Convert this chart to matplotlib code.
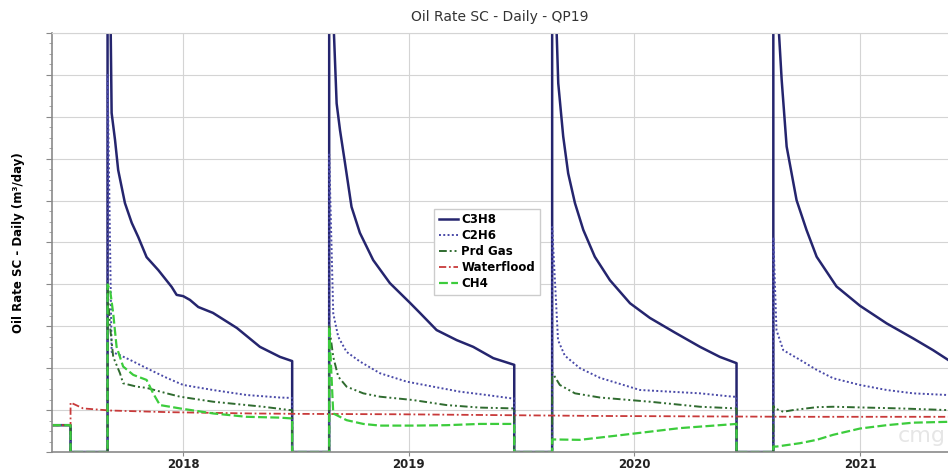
import matplotlib.pyplot as plt
from matplotlib.ticker import FixedLocator, MultipleLocator, AutoMinorLocator

# time in decimal years, oil rate in m3/day
c3h8_t = [2017.420, 2017.502, 2017.502, 2017.666, 2017.666, 2017.680, 2017.684, 2017.699, 2017.713,
          2017.743, 2017.773, 2017.802, 2017.839, 2017.891, 2017.950, 2017.972, 2018.001, 2018.031,
          2018.068, 2018.133, 2018.239, 2018.341, 2018.430, 2018.484, 2018.484,
          2018.648, 2018.648, 2018.669, 2018.681, 2018.696, 2018.718, 2018.747, 2018.784, 2018.843,
          2018.917, 2019.006, 2019.050, 2019.124, 2019.213, 2019.286, 2019.375, 2019.468, 2019.468,
          2019.636, 2019.636, 2019.656, 2019.663, 2019.685, 2019.707, 2019.737, 2019.774, 2019.825,
          2019.892, 2019.981, 2020.069, 2020.180, 2020.291, 2020.379, 2020.453, 2020.453,
          2020.616, 2020.616, 2020.641, 2020.653, 2020.675, 2020.697, 2020.719, 2020.763, 2020.808,
          2020.896, 2021.000, 2021.118, 2021.236, 2021.324, 2021.390]
c3h8_q = [0.64, 0.64, 0, 0, 14, 10, 8.09, 7.45, 6.73,
          5.94, 5.47, 5.13, 4.65, 4.34, 3.94, 3.75, 3.72, 3.63,
          3.46, 3.32, 2.96, 2.51, 2.27, 2.17, 0,
          0, 14, 10, 8.32, 7.68, 6.9, 5.85, 5.23, 4.58,
          4.03, 3.56, 3.32, 2.91, 2.67, 2.51, 2.24, 2.08, 0,
          0, 14, 10, 8.8, 7.53, 6.65, 5.94, 5.3, 4.66,
          4.1, 3.55, 3.2, 2.85, 2.51, 2.27, 2.12, 0,
          0, 14, 10, 8.88, 7.29, 6.65, 6.01, 5.3, 4.66,
          3.95, 3.49, 3.07, 2.71, 2.43, 2.2]

c2h6_t = [2017.420, 2017.502, 2017.502, 2017.666, 2017.666, 2017.684, 2017.721, 2017.765, 2017.839,
          2017.928, 2018.001, 2018.133, 2018.282, 2018.430, 2018.484, 2018.484,
          2018.648, 2018.648, 2018.666, 2018.688, 2018.725, 2018.784, 2018.873, 2018.991, 2019.108,
          2019.227, 2019.346, 2019.456, 2019.468, 2019.468,
          2019.636, 2019.636, 2019.662, 2019.692, 2019.759, 2019.848, 2020.025, 2020.291, 2020.437,
          2020.453, 2020.453,
          2020.616, 2020.616, 2020.630, 2020.660, 2020.734, 2020.808, 2020.881, 2021.000, 2021.118,
          2021.236, 2021.390]
c2h6_q = [0.64, 0.64, 0, 0, 9, 2.39, 2.31, 2.2, 2.0,
          1.77, 1.6, 1.48, 1.36, 1.3, 1.29, 0,
          0, 7.1, 3.31, 2.75, 2.39, 2.16, 1.88, 1.68, 1.56,
          1.44, 1.36, 1.28, 1.28, 0,
          0, 5.37, 2.67, 2.3, 2.0, 1.77, 1.48, 1.4, 1.32,
          1.32, 0,
          0, 5.13, 2.91, 2.43, 2.2, 1.96, 1.76, 1.6, 1.48,
          1.4, 1.36]

prd_t = [2017.420, 2017.502, 2017.502, 2017.666, 2017.666, 2017.677, 2017.691, 2017.721, 2017.735,
         2017.795, 2017.839, 2017.928, 2017.987, 2018.134, 2018.208, 2018.356, 2018.474, 2018.484,
         2018.484,
         2018.648, 2018.648, 2018.666, 2018.688, 2018.725, 2018.799, 2018.873, 2019.020, 2019.168,
         2019.316, 2019.468, 2019.468,
         2019.636, 2019.636, 2019.670, 2019.737, 2019.848, 2020.069, 2020.291, 2020.453, 2020.453,
         2020.616, 2020.616, 2020.623, 2020.660, 2020.703, 2020.808, 2020.881, 2021.029, 2021.177,
         2021.390]
prd_q = [0.64, 0.64, 0, 0, 3.9, 3.0, 2.27, 1.88, 1.64,
         1.56, 1.53, 1.4, 1.32, 1.2, 1.16, 1.08, 1.0, 1.0,
         0,
         0, 3.0, 2.27, 1.8, 1.56, 1.4, 1.32, 1.24, 1.12,
         1.06, 1.04, 0,
         0, 1.9, 1.6, 1.4, 1.3, 1.2, 1.08, 1.04, 0,
         0, 1.1, 1.04, 0.96, 1.0, 1.07, 1.08, 1.06, 1.04,
         1.0]

wf_t = [2017.420, 2017.502, 2017.502, 2017.558, 2017.677, 2017.942, 2018.297, 2018.518, 2018.961,
        2019.405, 2019.848, 2020.291, 2020.734, 2021.390]
wf_q = [0.64, 0.64, 1.18, 1.04, 0.99, 0.95, 0.92, 0.91, 0.9,
        0.88, 0.86, 0.85, 0.84, 0.84]

ch4_t = [2017.420, 2017.502, 2017.502, 2017.666, 2017.666, 2017.677, 2017.691, 2017.706, 2017.735,
         2017.780, 2017.839, 2017.868, 2017.898, 2017.987, 2018.134, 2018.282, 2018.430, 2018.484,
         2018.484,
         2018.648, 2018.648, 2018.666, 2018.725, 2018.799, 2018.873, 2019.020, 2019.168, 2019.316,
         2019.468, 2019.468,
         2019.636, 2019.636, 2019.759, 2019.936, 2020.202, 2020.453, 2020.453,
         2020.616, 2020.616, 2020.630, 2020.734, 2020.808, 2020.881, 2021.000, 2021.118, 2021.236,
         2021.390]
ch4_q = [0.64, 0.64, 0, 0, 4.0, 3.87, 3.31, 2.51, 2.04,
         1.84, 1.72, 1.4, 1.12, 1.04, 0.92, 0.84, 0.82, 0.8,
         0,
         0, 3.0, 0.92, 0.76, 0.67, 0.63, 0.63, 0.64, 0.67,
         0.67, 0,
         0, 0.3, 0.29, 0.4, 0.57, 0.67, 0,
         0, 0.13, 0.13, 0.21, 0.29, 0.41, 0.56, 0.64, 0.7,
         0.72]

years = [2018, 2019, 2020, 2021]

fig = plt.figure(figsize=(9.48, 4.70), dpi=100)
ax = fig.add_axes([0.0549, 0.0383, 0.9451, 0.8915])

ax.plot(c3h8_t, c3h8_q, color='#25256e', lw=1.8, ls='-', label='C3H8')
ax.plot(c2h6_t, c2h6_q, color='#4a4aa8', lw=1.4, ls=(0, (1, 1.2)), label='C2H6')
ax.plot(prd_t, prd_q, color='#2f6b2f', lw=1.4, ls=(0, (4, 1.5, 1, 1.5, 1, 1.5)), label='Prd Gas')
ax.plot(wf_t, wf_q, color='#c83a3a', lw=1.3, ls=(0, (4, 1.5, 1, 1.5)), label='Waterflood')
ax.plot(ch4_t, ch4_q, color='#3ccc3c', lw=1.6, ls=(0, (4, 1.5)), label='CH4')

ax.set_xlim(2017.420, 2021.390)
ax.set_ylim(0, 10)
ax.xaxis.set_major_locator(FixedLocator(years))
ax.set_xticklabels([str(y) for y in years], fontsize=8.5, fontweight='bold', color='#222222')
ax.yaxis.set_major_locator(MultipleLocator(1))
ax.yaxis.set_minor_locator(AutoMinorLocator(4))
ax.set_yticklabels([])
ax.tick_params(axis='y', which='major', length=4, color='#888888')
ax.tick_params(axis='y', which='minor', length=2, color='#999999')
ax.tick_params(axis='x', length=3, pad=1, color='#888888')
ax.grid(True, which='major', color='#d4d4d4', lw=0.8)

for side in ('left', 'bottom'):
    ax.spines[side].set_color('#8a8a8a')
    ax.spines[side].set_linewidth(1.2)
ax.spines['top'].set_color('#d4d4d4')
ax.spines['right'].set_visible(False)

ax.set_ylabel('Oil Rate SC - Daily (m³/day)', fontsize=8.5, fontweight='bold', labelpad=12)
fig.text(0.527, 0.963, 'Oil Rate SC - Daily - QP19', ha='center', va='center', fontsize=10, color='#333333')

leg = ax.legend(loc='upper left', bbox_to_anchor=(0.42, 0.595), prop={'weight': 'bold', 'size': 8.5},
                handlelength=1.6, handletextpad=0.3, labelspacing=0.25, borderpad=0.4,
                fancybox=False, framealpha=1, edgecolor='#cccccc')

ax.text(0.997, 0.015, 'cmg', transform=ax.transAxes, ha='right', va='bottom', fontsize=16,
        color='#e6e6e6', zorder=0)

fig.savefig('out.png', dpi=100)
